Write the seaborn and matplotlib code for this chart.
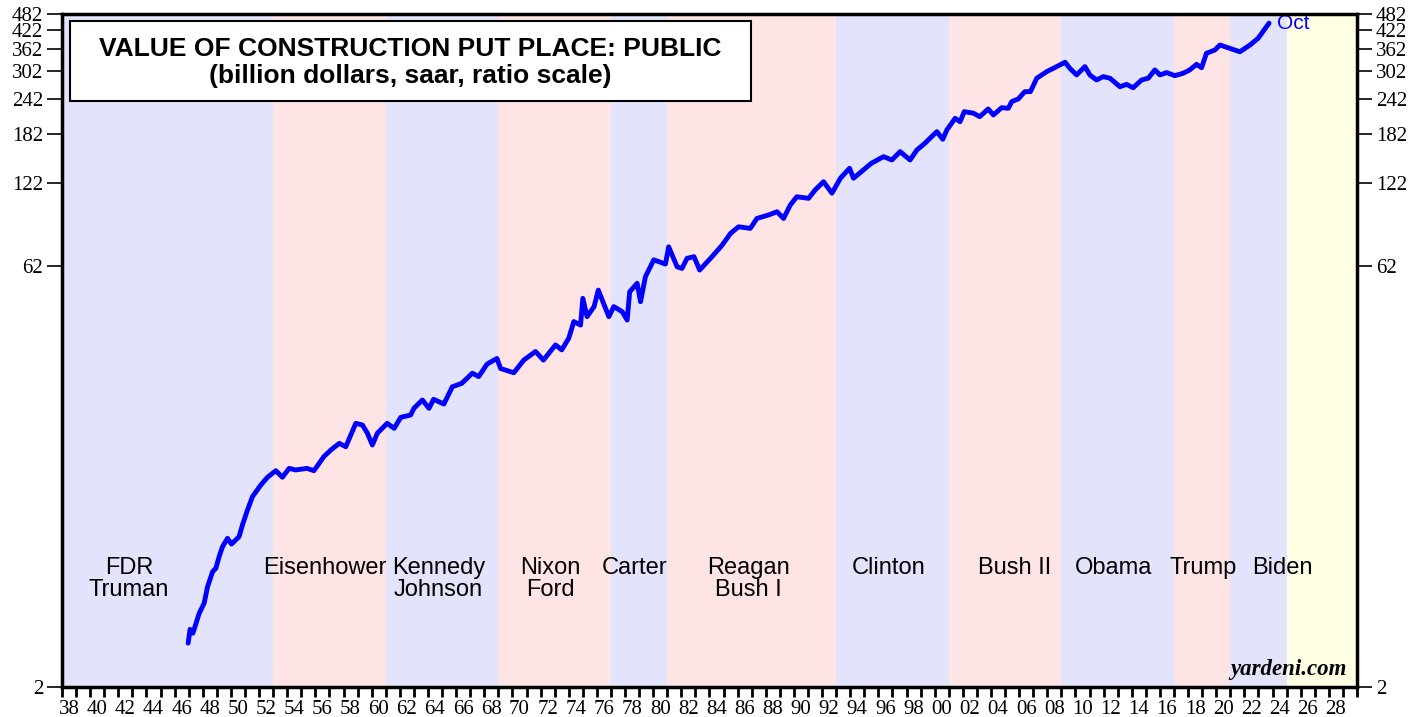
import numpy as np
import pandas as pd
import seaborn as sns
import matplotlib.pyplot as plt
import matplotlib.transforms as mtransforms
from matplotlib.patches import Rectangle

# valores (bilhoes de dolares, saar)
years = [1946.96, 1947.1, 1947.3, 1947.75, 1948.1, 1948.34, 1948.7, 1948.93, 1949.16, 1949.4,
         1949.76, 1950.04, 1950.58, 1950.82, 1951.18, 1951.53, 1952.12, 1952.6, 1953.19, 1953.66,
         1954.13, 1954.6, 1955.4, 1955.9, 1956.6, 1957.1, 1957.7, 1958.16, 1958.87, 1959.34,
         1959.7, 1960.05, 1960.4, 1961.1, 1961.6, 1962.06, 1962.77, 1963.0, 1963.6, 1964.07,
         1964.4, 1965.13, 1965.73, 1966.4, 1967.15, 1967.6, 1968.2, 1968.9, 1969.16, 1970.1,
         1970.8, 1971.64, 1972.2, 1973.06, 1973.5, 1974.0, 1974.36, 1974.84, 1975.0, 1975.3,
         1975.8, 1976.1, 1976.85, 1977.2, 1977.8, 1978.15, 1978.33, 1978.86, 1979.1, 1979.45,
         1980.04, 1980.87, 1981.1, 1981.7, 1982.05, 1982.4, 1982.9, 1983.3, 1984.18, 1984.9,
         1985.5, 1986.07, 1986.9, 1987.37, 1988.2, 1988.8, 1989.26, 1989.74, 1990.2, 1991.04,
         1991.5, 1992.1, 1992.7, 1993.3, 1993.95, 1994.23, 1994.94, 1995.5, 1996.36, 1996.96,
         1997.54, 1998.25, 1998.73, 1999.3, 2000.15, 2000.57, 2000.86, 2001.45, 2001.8, 2002.1,
         2002.75, 2003.2, 2003.8, 2004.17, 2004.76, 2005.23, 2005.47, 2005.94, 2006.4, 2006.8,
         2007.25, 2007.96, 2008.67, 2009.26, 2009.6, 2010.08, 2010.67, 2011.03, 2011.5, 2011.97,
         2012.45, 2013.16, 2013.63, 2014.1, 2014.7, 2015.17, 2015.64, 2016.0, 2016.47, 2017.06,
         2017.65, 2018.12, 2018.6, 2018.96, 2019.3, 2019.9, 2020.26, 2020.97, 2021.68, 2022.4,
         2022.97, 2023.75]
values = [2.86, 3.2, 3.1, 3.65, 3.96, 4.53, 5.12, 5.26, 5.78, 6.27,
          6.72, 6.41, 6.81, 7.49, 8.47, 9.43, 10.37, 11.05, 11.66, 11.05,
          11.88, 11.73, 11.88, 11.66, 13.07, 13.8, 14.57, 14.17, 17.15, 16.92,
          15.81, 14.37, 15.81, 17.15, 16.46, 18.0, 18.36, 19.38, 20.74, 19.38,
          20.86, 20.07, 23.1, 23.76, 25.8, 25.1, 27.8, 29.1, 26.8, 25.9,
          28.7, 30.8, 28.7, 32.5, 31.2, 34.3, 39.3, 38.2, 47.5, 40.9,
          44.4, 50.8, 40.9, 44.4, 42.6, 39.8, 50.1, 53.7, 46.2, 56.7,
          65.0, 62.8, 72.3, 61.4, 60.6, 65.8, 66.7, 59.8, 66.7, 73.3,
          80.7, 85.1, 84.0, 91.1, 93.7, 96.2, 91.1, 101.6, 108.7, 107.3,
          114.8, 122.9, 111.9, 126.4, 137.1, 126.4, 135.3, 142.8, 150.7, 146.7,
          157.0, 146.7, 159.1, 168.0, 184.8, 173.7, 187.2, 206.0, 200.3, 217.5,
          214.7, 208.8, 222.3, 211.7, 224.7, 223.5, 236.0, 241.3, 256.0, 256.0,
          285.6, 301.4, 314.0, 325.3, 309.7, 293.3, 314.0, 293.0, 281.6, 289.3,
          285.6, 266.5, 271.6, 264.3, 281.6, 285.6, 305.6, 293.3, 299.0, 291.6,
          297.4, 305.6, 319.8, 311.1, 349.8, 359.4, 374.4, 364.3, 354.3, 374.4,
          395.2, 447.3]

# mandatos presidenciais (inicio, fim, cor)
term_start = [1938, 1953, 1961, 1969, 1977, 1981, 1993, 2001, 2009, 2017, 2021, 2025]
term_end = [1953, 1961, 1969, 1977, 1981, 1993, 2001, 2009, 2017, 2021, 2025, 2030]
term_color = ["#E3E3FC", "#FEE4E4", "#E3E3FC", "#FEE4E4", "#E3E3FC", "#FEE4E4",
              "#E3E3FC", "#FEE4E4", "#E3E3FC", "#FEE4E4", "#E3E3FC", "#FFFFE4"]
pres_names = ["FDR\nTruman", "Eisenhower", "Kennedy\nJohnson", "Nixon\nFord", "Carter",
              "Reagan\nBush I", "Clinton", "Bush II", "Obama", "Trump", "Biden"]
pres_x = [1942.75, 1956.7, 1964.75, 1972.7, 1978.7, 1986.75, 1996.7, 2005.7, 2012.7, 2019.1, 2024.7]

y_ticks = [2, 62, 122, 182, 242, 302, 362, 422, 482]
x_label_years = list(range(1938, 2029, 2))
x_tick_labels = [f"{y % 100:02d}" for y in x_label_years]

df = pd.DataFrame({"year": years, "value": values})

sns.set_style("white")
plt.rcParams["font.family"] = ["Liberation Sans", "DejaVu Sans"]
plt.rcParams["text.color"] = "black"
plt.rcParams["xtick.color"] = "black"
plt.rcParams["ytick.color"] = "black"

fig = plt.figure(figsize=(14.27, 7.17), dpi=100)
ax = fig.add_axes([62 / 1427, 1 - 687 / 717, 1295 / 1427, 673 / 717])

for s, e, c in zip(term_start, term_end, term_color):
    ax.axvspan(s, e, color=c, lw=0, zorder=0)

sns.lineplot(data=df, x="year", y="value", color="#0000FF", lw=3.5,
             estimator=None, sort=False, ax=ax, zorder=3)

ax.set_yscale("log")
ax.set_xlim(1938, 2030)
ax.set_ylim(2, 482)
ax.set_xlabel("")
ax.set_ylabel("")

# eixo y
ax.set_yticks(y_ticks)
ax.set_yticklabels([str(v) for v in y_ticks])
ax.yaxis.set_minor_locator(plt.NullLocator())
ax.tick_params(axis="y", which="major", left=True, right=True, labelleft=True, labelright=True,
               direction="out", length=10.5, width=1.2, pad=3, labelsize=15)

# eixo x: tracos anuais, rotulos a cada dois anos no meio do ano
ax.set_xticks(range(1938, 2031))
ax.set_xticklabels([])
ax.set_xticks([y + 0.5 for y in x_label_years], minor=True)
ax.set_xticklabels(x_tick_labels, minor=True)
ax.tick_params(axis="x", which="major", direction="out", length=7, width=2, bottom=True)
ax.tick_params(axis="x", which="minor", length=0, pad=9, labelsize=15)

for lab in ax.get_xticklabels(minor=True) + ax.get_yticklabels():
    lab.set_fontfamily("Liberation Serif")

for sp in ax.spines.values():
    sp.set_linewidth(2.5)
    sp.set_color("black")
    sp.set_zorder(5)

# caixa do titulo
ax.add_patch(Rectangle((0.006, 0.871), 0.526, 0.119, transform=ax.transAxes,
                       facecolor="white", edgecolor="black", lw=1.5, zorder=4))
ax.text(0.269, 0.928, "VALUE OF CONSTRUCTION PUT PLACE: PUBLIC\n(billion dollars, saar, ratio scale)",
        transform=ax.transAxes, ha="center", va="center", fontsize=19, fontweight="bold",
        linespacing=1.2, zorder=5)

# nomes dos presidentes
trans = mtransforms.blended_transform_factory(ax.transData, ax.transAxes)
for name, xp in zip(pres_names, pres_x):
    ax.text(xp, 0.1935, name, transform=trans, ha="center", va="top", fontsize=17,
            linespacing=1.03, zorder=4)

ax.text(years[-1] + 0.55, values[-1], "Oct", color="#0000FF", fontsize=15,
        ha="left", va="center", zorder=4)

ax.text(0.992, 0.01, "yardeni.com", transform=ax.transAxes, ha="right", va="bottom",
        fontsize=16.5, fontweight="bold", fontstyle="italic", family="Liberation Serif", zorder=4)

plt.savefig("out.png", dpi=100)
